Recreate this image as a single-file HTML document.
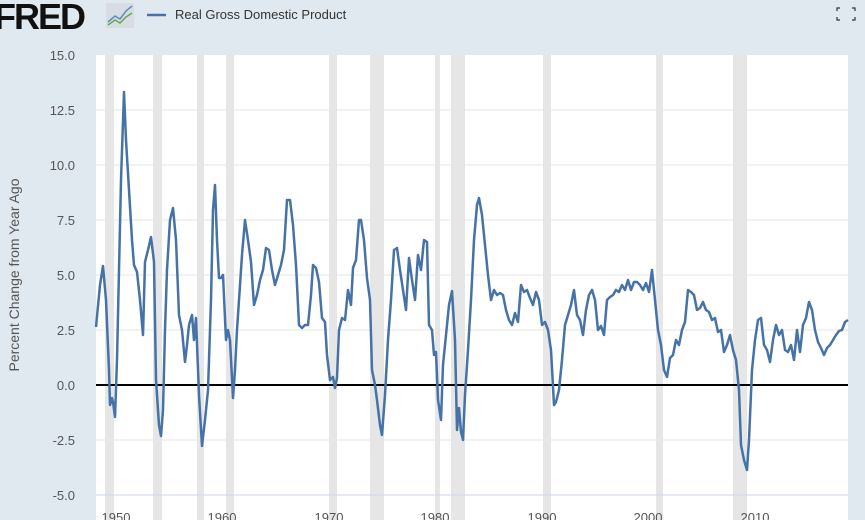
<!DOCTYPE html>
<html><head><style>
body{margin:0;width:865px;height:520px;overflow:hidden;background:#e1e9f0;font-family:"Liberation Sans",sans-serif}
</style></head><body>
<svg width="865" height="520" xmlns="http://www.w3.org/2000/svg" style="position:absolute;left:0;top:0">
<rect x="0" y="0" width="865" height="520" fill="#e1e9f0"/>
<text x="-6" y="29" font-size="36" font-weight="bold" fill="#111" font-family="Liberation Sans" letter-spacing="-2">FRED</text>
<rect x="106" y="3" width="28" height="25" fill="#d8dde3"/>
<polyline points="108,22 115,16 120,19 126,11 132,6" fill="none" stroke="#5a8cc0" stroke-width="1.5"/>
<polyline points="108,25 115,20 120,23 126,17 132,13" fill="none" stroke="#6aa84f" stroke-width="1.5"/>
<line x1="147" y1="15" x2="166" y2="15" stroke="#4572a7" stroke-width="2.5"/>
<text x="175" y="19" font-size="13" fill="#333">Real Gross Domestic Product</text>
<path d="M840 8h-3v3M852 8h3v3M840 20h-3v-3M852 20h3v-3" fill="none" stroke="#333" stroke-width="1.2"/>
<rect x="96" y="55" width="752" height="465" fill="#fff"/>
<g fill="#e6e6e6">
<rect x="105" y="55" width="9" height="465"/><rect x="153" y="55" width="9" height="465"/>
<rect x="197" y="55" width="7" height="465"/><rect x="226" y="55" width="8" height="465"/>
<rect x="329" y="55" width="8" height="465"/><rect x="370" y="55" width="14" height="465"/>
<rect x="435" y="55" width="5" height="465"/><rect x="451" y="55" width="14" height="465"/>
<rect x="543" y="55" width="8" height="465"/><rect x="656" y="55" width="7" height="465"/>
<rect x="733" y="55" width="14" height="465"/>
</g>
<g stroke="#e6e6e6" stroke-width="1">
<line x1="96" x2="848" y1="110" y2="110"/><line x1="96" x2="848" y1="165" y2="165"/>
<line x1="96" x2="848" y1="220" y2="220"/><line x1="96" x2="848" y1="275" y2="275"/>
<line x1="96" x2="848" y1="330" y2="330"/><line x1="96" x2="848" y1="440" y2="440"/>
</g>
<line x1="96" x2="848" y1="495" y2="495" stroke="#ccd6eb"/>
<line x1="96" x2="848" y1="385" y2="385" stroke="#000" stroke-width="2"/>
<g font-size="13" fill="#555" text-anchor="end">
<text x="75" y="60">15.0</text><text x="75" y="115">12.5</text><text x="75" y="170">10.0</text>
<text x="75" y="225">7.5</text><text x="75" y="280">5.0</text><text x="75" y="335">2.5</text>
<text x="75" y="390">0.0</text><text x="75" y="445">-2.5</text><text x="75" y="500">-5.0</text>
</g>
<text transform="translate(19,275) rotate(-90)" font-size="14" fill="#555" text-anchor="middle">Percent Change from Year Ago</text>
<g font-size="13" fill="#555" text-anchor="middle">
<text x="116" y="522">1950</text><text x="222" y="522">1960</text><text x="329" y="522">1970</text>
<text x="435" y="522">1980</text><text x="542" y="522">1990</text><text x="648" y="522">2000</text><text x="755" y="522">2010</text>
</g>
<polyline fill="none" stroke="#4572a7" stroke-width="2.5" stroke-linejoin="round" points="96,327 100,285 103,266 106,300 109,370 110,405 112,398 113,402 115,417 117,360 119,270 121,180 124,92 126,140 129,190 132,240 134,265 137,272 140,300 143,335 145,262 148,250 151,237 154,262 156,380 159,425 161,436 163,410 165,330 167,270 170,220 173,208 176,240 179,315 182,330 185,362 187,345 189,325 192,315 194,340 196,318 199,395 202,446 205,420 208,390 211,300 213,210 215,185 217,240 219,278 221,278 223,275 226,340 228,330 230,340 233,398 235,370 237,330 239,300 242,255 245,220 248,240 251,262 254,305 257,295 260,280 263,270 266,248 269,250 272,270 275,285 278,275 281,265 284,250 287,200 290,200 293,225 296,265 299,325 302,328 305,325 308,325 311,295 313,265 316,268 319,282 322,318 325,322 327,355 330,380 333,377 335,388 337,378 339,330 342,318 345,320 348,290 351,305 353,268 356,260 359,220 361,220 364,240 367,278 370,300 372,370 375,385 377,400 380,425 382,435 385,395 388,340 391,300 394,250 397,248 400,270 403,290 406,310 409,258 412,280 415,300 418,255 421,270 424,240 427,242 429,325 432,330 434,355 436,352 438,400 441,420 443,365 446,335 449,305 452,291 455,340 457,430 459,408 461,432 463,440 465,395 468,350 471,300 474,240 477,205 479,198 482,215 485,245 488,275 491,300 494,290 497,295 500,293 503,295 506,310 509,320 512,325 515,313 518,322 521,285 524,292 527,290 530,298 533,305 536,292 539,300 542,325 545,322 548,330 551,350 554,405 556,402 559,390 562,360 565,325 568,315 571,305 574,290 577,315 580,320 583,335 586,310 589,295 592,290 595,300 598,330 601,326 604,335 607,300 610,297 613,295 616,290 619,292 622,285 625,290 628,280 631,290 634,282 637,282 640,285 643,290 646,283 649,292 652,270 655,300 658,330 661,345 664,370 667,377 670,358 673,355 676,340 679,345 682,330 685,322 688,290 691,292 694,295 697,310 700,308 703,302 706,310 709,312 712,320 715,318 718,332 721,330 724,352 727,345 730,335 733,350 736,360 739,390 741,445 744,460 747,470 749,440 752,370 755,340 758,320 761,318 764,345 767,350 770,362 773,340 776,325 779,335 782,330 785,350 788,352 791,345 794,360 797,330 800,352 803,325 806,318 809,302 812,310 815,330 818,342 821,348 824,355 827,348 830,345 833,340 836,335 839,331 842,330 845,322 848,320"/>
</svg>
</body></html>
